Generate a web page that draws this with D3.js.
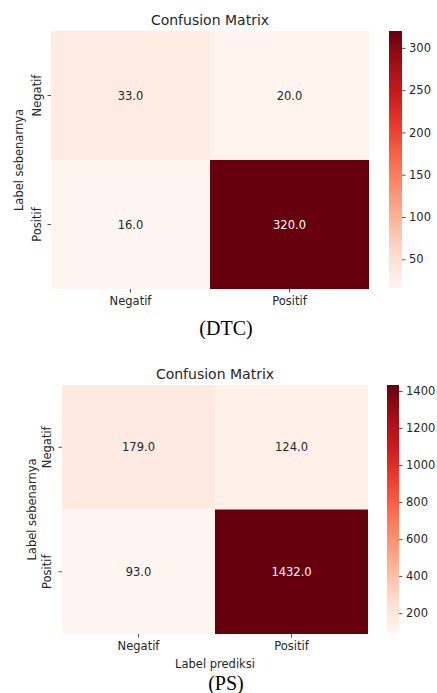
<!DOCTYPE html>
<html>
<head>
<meta charset="utf-8">
<script src="https://cdn.jsdelivr.net/npm/d3@7"></script>
<style>
  html, body { margin: 0; padding: 0; background: #fff; }
  svg { display: block; }
</style>
</head>
<body>
<svg id="chart" width="437" height="693"></svg>
<script>
// Class labels shared by both matrices
const classLabels = ["Negatif", "Positif"];

// Decision tree classifier confusion matrix (rows: actual, cols: predicted)
const dtcValues = [
  [33, 20],
  [16, 320]
];
const dtcTicks = [50, 100, 150, 200, 250, 300];

// PS confusion matrix
const psValues = [
  [179, 124],
  [93, 1432]
];
const psTicks = [200, 400, 600, 800, 1000, 1200, 1400];

const chartTitle = "Confusion Matrix";
const yAxisTitle = "Label sebenarnya";
const xAxisTitle = "Label prediksi";

const svg = d3.select("#chart");
const textColor = "#262626";
const sansFont = "DejaVu Sans, sans-serif";
const defs = svg.append("defs");

function drawMatrix(opts) {
  const { values, ticks, box, bar, caption, xTitle, yTitleX, yTickX, id } = opts;
  const flat = values.flat();
  const vmin = d3.min(flat), vmax = d3.max(flat);
  const color = d3.scaleSequential(d3.interpolateReds).domain([vmin, vmax]);

  const x = d3.scaleBand().domain(classLabels).range([box.x0, box.x1]);
  const y = d3.scaleBand().domain(classLabels).range([box.y0, box.y1]);

  const g = svg.append("g");

  // cells
  const cells = [];
  values.forEach((row, i) => row.forEach((v, j) => cells.push({ r: classLabels[i], c: classLabels[j], v })));

  g.selectAll("rect.cell").data(cells).enter().append("rect")
    .attr("x", d => x(d.c))
    .attr("y", d => y(d.r))
    .attr("width", x.bandwidth())
    .attr("height", y.bandwidth())
    .attr("fill", d => color(d.v));

  // annotations
  g.selectAll("text.annot").data(cells).enter().append("text")
    .attr("x", d => x(d.c) + x.bandwidth() / 2)
    .attr("y", d => y(d.r) + y.bandwidth() / 2)
    .attr("dy", "0.36em")
    .attr("text-anchor", "middle")
    .attr("font-family", sansFont)
    .attr("font-size", 11.5)
    .attr("fill", d => {
      const c = d3.rgb(color(d.v));
      const lum = 0.2126 * c.r + 0.7152 * c.g + 0.0722 * c.b;
      return lum > 105 ? textColor : "#ffffff";
    })
    .text(d => d.v.toFixed(1));

  // title
  g.append("text")
    .attr("x", (box.x0 + box.x1) / 2)
    .attr("y", box.y0 - 6.5)
    .attr("text-anchor", "middle")
    .attr("font-family", sansFont)
    .attr("font-size", 14)
    .attr("fill", textColor)
    .text(chartTitle);

  // x axis ticks
  const xAxis = d3.axisBottom(x).tickSize(3.5).tickPadding(4);
  const gx = g.append("g").attr("transform", `translate(0,${box.y1})`).call(xAxis);
  gx.select(".domain").remove();
  gx.selectAll(".tick line").attr("stroke", textColor).attr("stroke-width", 0.8);
  gx.selectAll(".tick text").attr("font-family", sansFont).attr("font-size", 11.5).attr("fill", textColor);

  // y axis ticks (rotated labels)
  const yAxis = d3.axisLeft(y).tickSize(3.5).tickFormat("");
  const gy = g.append("g").attr("transform", `translate(${box.x0},0)`).call(yAxis);
  gy.select(".domain").remove();
  gy.selectAll(".tick line").attr("stroke", textColor).attr("stroke-width", 0.8);
  g.selectAll("text.ylab").data(classLabels).enter().append("text")
    .attr("transform", d => `translate(${yTickX},${y(d) + y.bandwidth() / 2}) rotate(-90)`)
    .attr("text-anchor", "middle")
    .attr("dominant-baseline", "central")
    .attr("font-family", sansFont)
    .attr("font-size", 11.5)
    .attr("fill", textColor)
    .text(d => d);

  // y axis title
  g.append("text")
    .attr("transform", `translate(${yTitleX},${(box.y0 + box.y1) / 2}) rotate(-90)`)
    .attr("text-anchor", "middle")
    .attr("dominant-baseline", "central")
    .attr("font-family", sansFont)
    .attr("font-size", 11.5)
    .attr("fill", textColor)
    .text(yAxisTitle);

  if (xTitle) {
    g.append("text")
      .attr("x", (box.x0 + box.x1) / 2)
      .attr("y", xTitle.y)
      .attr("text-anchor", "middle")
      .attr("font-family", sansFont)
      .attr("font-size", 11.5)
      .attr("fill", textColor)
      .text(xAxisTitle);
  }

  // colorbar
  const grad = defs.append("linearGradient")
    .attr("id", id)
    .attr("x1", 0).attr("y1", 1).attr("x2", 0).attr("y2", 0);
  d3.range(0, 1.0001, 0.05).forEach(t => {
    grad.append("stop").attr("offset", t).attr("stop-color", color(vmin + t * (vmax - vmin)));
  });
  g.append("rect")
    .attr("x", bar.x0).attr("y", box.y0)
    .attr("width", bar.x1 - bar.x0).attr("height", bar.y1 - box.y0)
    .attr("fill", `url(#${id})`);

  const cbScale = d3.scaleLinear().domain([vmin, vmax]).range([bar.y1, box.y0]);
  const cbAxis = d3.axisRight(cbScale).tickValues(ticks).tickSize(3.5).tickPadding(3.5).tickFormat(d3.format("d"));
  const gc = g.append("g").attr("transform", `translate(${bar.x1},0)`).call(cbAxis);
  gc.select(".domain").remove();
  gc.selectAll(".tick line").attr("stroke", textColor).attr("stroke-width", 0.8);
  gc.selectAll(".tick text").attr("font-family", sansFont).attr("font-size", 11.5).attr("fill", textColor);

  // caption below the panel
  g.append("text")
    .attr("x", caption.x)
    .attr("y", caption.y)
    .attr("text-anchor", "middle")
    .attr("font-family", "Liberation Serif, Times New Roman, serif")
    .attr("font-size", 20)
    .attr("fill", "#000")
    .text(caption.text);
}

drawMatrix({
  id: "grad-dtc",
  values: dtcValues,
  ticks: dtcTicks,
  box: { x0: 51, x1: 369, y0: 31, y1: 289 },
  bar: { x0: 389, x1: 402, y1: 288 },
  yTitleX: 19,
  yTickX: 37,
  caption: { x: 226, y: 335, text: "(DTC)" }
});

drawMatrix({
  id: "grad-ps",
  values: psValues,
  ticks: psTicks,
  box: { x0: 62, x1: 368, y0: 385, y1: 634 },
  bar: { x0: 387, x1: 399, y1: 633 },
  yTitleX: 32,
  yTickX: 47,
  xTitle: { y: 668 },
  caption: { x: 226, y: 690, text: "(PS)" }
});
</script>
</body>
</html>
